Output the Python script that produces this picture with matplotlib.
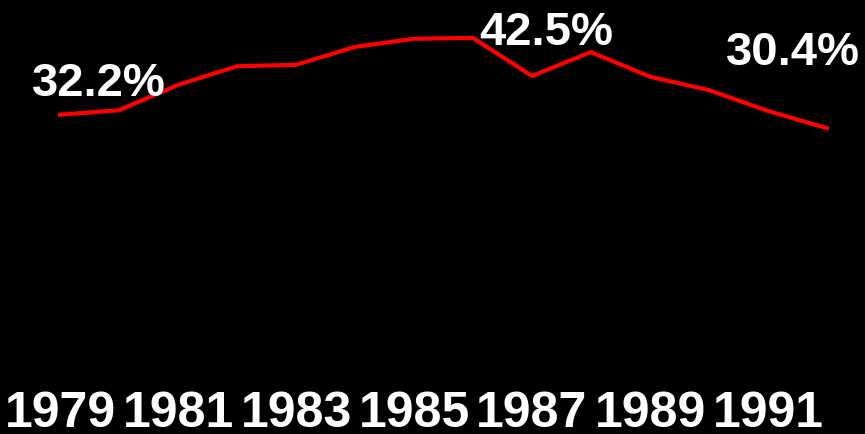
import matplotlib
matplotlib.use("Agg")
import matplotlib.pyplot as plt
from matplotlib import font_manager

years = [1979, 1980, 1981, 1982, 1983, 1984, 1985, 1986, 1987, 1988, 1989, 1990, 1991, 1992]
values = [32.2, 32.8, 36.2, 38.7, 38.9, 41.3, 42.4, 42.5, 37.4, 40.6, 37.3, 35.5, 32.7, 30.4]
tick_years = [1979, 1981, 1983, 1985, 1987, 1989, 1991]
tick_labels = [str(y) for y in tick_years]
annot_years = [1979, 1986, 1992]
annot_texts = ["32.2%", "42.5%", "30.4%"]

names = {f.name for f in font_manager.fontManager.ttflist}
narrow = "Liberation Sans Narrow" if "Liberation Sans Narrow" in names else "Liberation Sans"

fig = plt.figure(figsize=(8.65, 4.35), dpi=100, facecolor="black")
ax = fig.add_axes([0, 1 - 385 / 435, 1, 385 / 435])
ax.set_facecolor("black")
ax.plot(years, values, color="#ff0000", linewidth=3.0, solid_joinstyle="miter")

ax.set_xlim(1979 - 60 / 59, 1979 + 805 / 59)
k = 7.45
ax.set_ylim(32.2 - (385 - 115.7) / k, 32.2 + 115.7 / k)

ax.set_xticks(tick_years)
ax.set_xticklabels(tick_labels, fontfamily="Liberation Sans", fontweight="bold",
                   fontsize=36, color="white")
ax.tick_params(axis="x", length=0, pad=4)
ax.set_yticks([])
for s in ax.spines.values():
    s.set_visible(False)

offsets = [(-28, 20), (6, -6), (-101, 64)]
for yr, txt, off in zip(annot_years, annot_texts, offsets):
    v = values[years.index(yr)]
    ax.annotate(txt, xy=(yr, v), xytext=off, textcoords="offset pixels",
                ha="left", va="baseline", color="white", fontweight="bold",
                fontsize=34, fontfamily=narrow)

fig.savefig("out.png", dpi=100, facecolor="black")
